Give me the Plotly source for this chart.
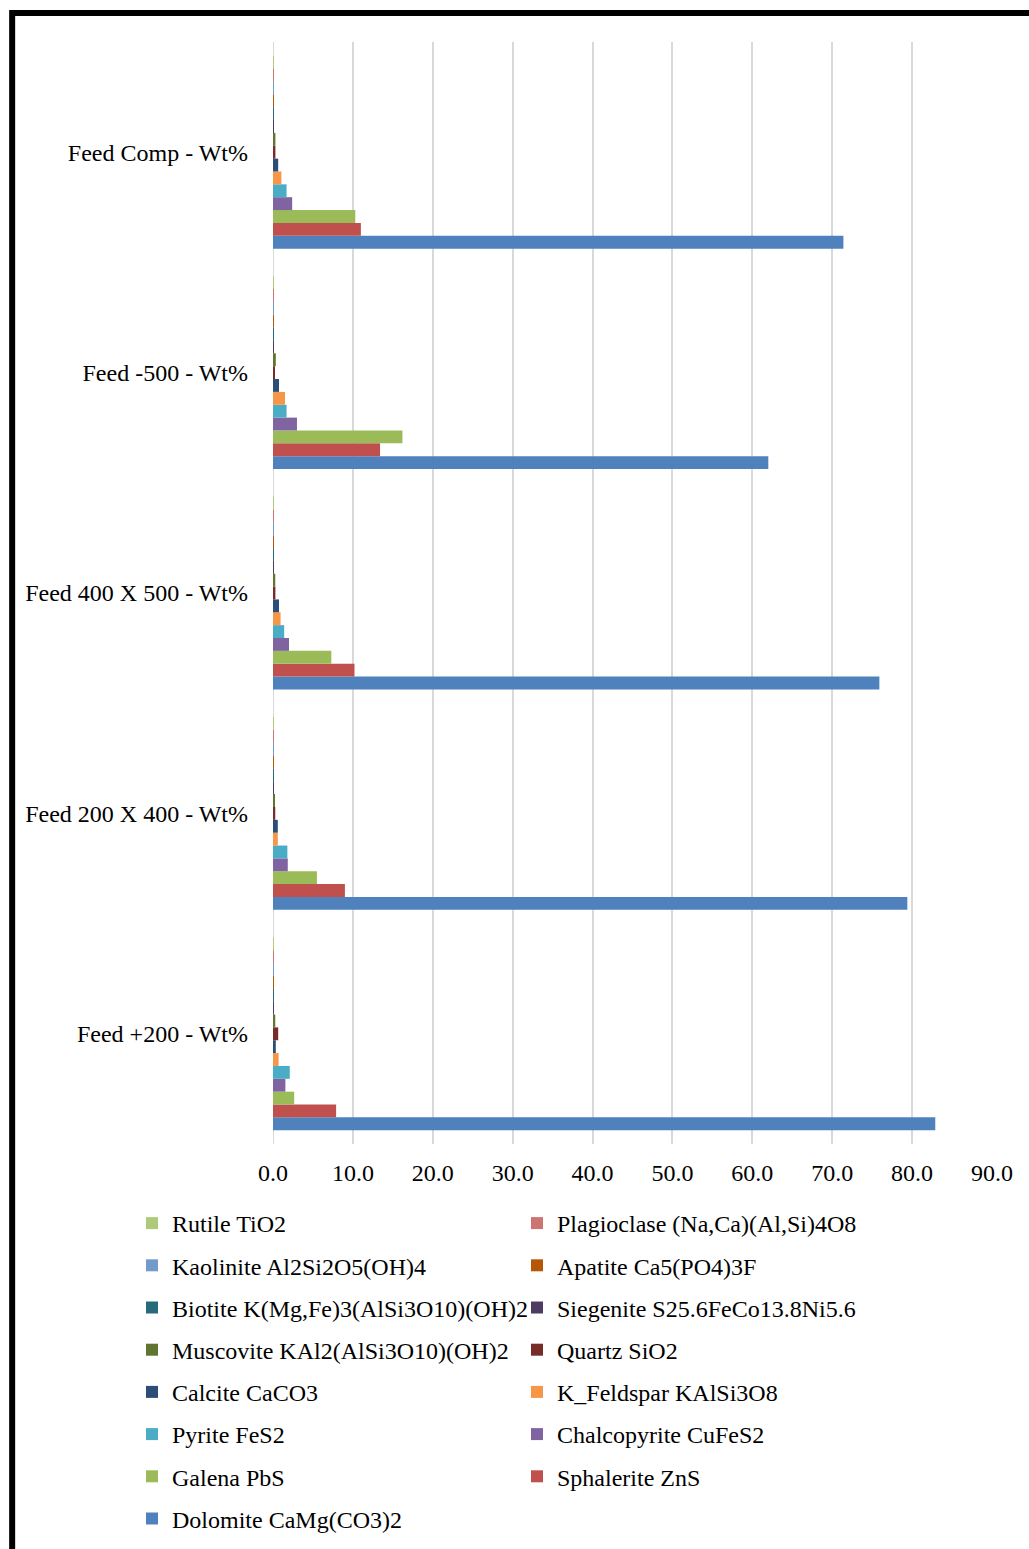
import plotly.graph_objects as go

# Size fractions (top to bottom as displayed)
categories = [
    "Feed Comp - Wt%",
    "Feed -500 - Wt%",
    "Feed 400 X 500 - Wt%",
    "Feed 200 X 400 - Wt%",
    "Feed +200 - Wt%",
]

# Mineral content, Wt%, one value per size fraction
dolomite = [71.4, 62.0, 75.9, 79.4, 82.9]
sphalerite = [11.0, 13.4, 10.2, 9.0, 7.9]
galena = [10.3, 16.2, 7.3, 5.5, 2.65]
chalcopyrite = [2.4, 3.0, 2.0, 1.85, 1.55]
pyrite = [1.7, 1.7, 1.4, 1.8, 2.1]
k_feldspar = [1.05, 1.5, 0.95, 0.6, 0.7]
calcite = [0.65, 0.75, 0.75, 0.6, 0.35]
quartz = [0.3, 0.2, 0.3, 0.28, 0.65]
muscovite = [0.3, 0.35, 0.28, 0.15, 0.28]
siegenite = [0.05, 0.05, 0.05, 0.01, 0.01]
biotite = [0.01, 0.01, 0.01, 0.01, 0.01]
apatite = [0.01, 0.01, 0.01, 0.01, 0.01]
kaolinite = [0.01, 0.01, 0.01, 0.01, 0.01]
plagioclase = [0.01, 0.01, 0.01, 0.01, 0.01]
rutile = [0.01, 0.01, 0.01, 0.01, 0.01]

x_ticks = [0, 10, 20, 30, 40, 50, 60, 70, 80, 90]

# (name, values, colour, legend column); first trace sits at the bottom of each group
series = [
    ("Dolomite CaMg(CO3)2", dolomite, "#4F81BD", "legend"),
    ("Sphalerite ZnS", sphalerite, "#C0504D", "legend2"),
    ("Galena PbS", galena, "#9BBB59", "legend"),
    ("Chalcopyrite CuFeS2", chalcopyrite, "#8064A2", "legend2"),
    ("Pyrite FeS2", pyrite, "#4BACC6", "legend"),
    ("K_Feldspar KAlSi3O8", k_feldspar, "#F79646", "legend2"),
    ("Calcite CaCO3", calcite, "#2C4D75", "legend"),
    ("Quartz SiO2", quartz, "#772C2A", "legend2"),
    ("Muscovite KAl2(AlSi3O10)(OH)2", muscovite, "#5F7530", "legend"),
    ("Siegenite S25.6FeCo13.8Ni5.6", siegenite, "#4D3B62", "legend2"),
    ("Biotite K(Mg,Fe)3(AlSi3O10)(OH)2", biotite, "#276A7C", "legend"),
    ("Apatite Ca5(PO4)3F", apatite, "#B65708", "legend2"),
    ("Kaolinite Al2Si2O5(OH)4", kaolinite, "#729ACA", "legend"),
    ("Plagioclase (Na,Ca)(Al,Si)4O8", plagioclase, "#CD7371", "legend2"),
    ("Rutile TiO2", rutile, "#AFC97A", "legend"),
]

FONT = "Liberation Serif, Times New Roman, serif"
FS = 24

fig = go.Figure()
n = len(series)
for i, (name, vals, color, leg) in enumerate(series):
    fig.add_trace(go.Bar(
        y=categories, x=vals, name=name, orientation="h",
        marker=dict(color=color, line=dict(width=0)),
        legend=leg, legendgroup=name, legendrank=1000 + (n - i),
    ))

W, H = 1029, 1549
ml, mr, mt, mb = 272.5, 36.5, 42, 405
pw, ph = W - ml - mr, H - mt - mb


def px_x(px):
    return (px - ml) / pw


def px_y(py):
    return (H - mb - py) / ph


def cx(px):
    return px / W


def cy(py):
    return 1 - py / H


legend_common = dict(
    orientation="v", xanchor="left", yanchor="top",
    xref="container", yref="container",
    font=dict(family=FONT, size=FS, color="black"),
    traceorder="grouped", tracegroupgap=8,
    bgcolor="rgba(0,0,0,0)", itemclick=False,
)

fig.update_layout(
    width=W, height=H,
    margin=dict(l=ml, r=mr, t=mt, b=mb, pad=0, autoexpand=False),
    paper_bgcolor="white", plot_bgcolor="white",
    font=dict(family=FONT, size=FS, color="black"),
    barmode="group", bargap=0.125, bargroupgap=0,
    showlegend=True,
    legend=dict(x=cx(132), y=cy(1201), **legend_common),
    legend2=dict(x=cx(517), y=cy(1201), **legend_common),
    xaxis=dict(
        range=[0, 90], tickvals=x_ticks, tickformat=".1f",
        showgrid=True, gridcolor="#D9D9D9", gridwidth=2,
        zeroline=False, showline=False, ticks="",
        ticklabelstandoff=12,
        tickfont=dict(family=FONT, size=FS, color="black"),
    ),
    yaxis=dict(
        categoryorder="array", categoryarray=categories[::-1],
        showgrid=False, zeroline=False, showline=False, ticks="",
        ticklabelstandoff=24,
        tickfont=dict(family=FONT, size=FS, color="black"),
    ),
)

# zero line drawn like the other gridlines
fig.add_shape(type="line", xref="x", yref="paper", x0=0, x1=0, y0=0, y1=1,
              line=dict(color="#D9D9D9", width=2), layer="below")

# heavy black frame around the chart
fig.add_shape(type="rect", xref="paper", yref="paper",
              x0=px_x(11.3), x1=px_x(1060), y0=px_y(13), y1=px_y(1600),
              line=dict(color="black", width=6), fillcolor="rgba(0,0,0,0)")

fig.write_html("out.html")
